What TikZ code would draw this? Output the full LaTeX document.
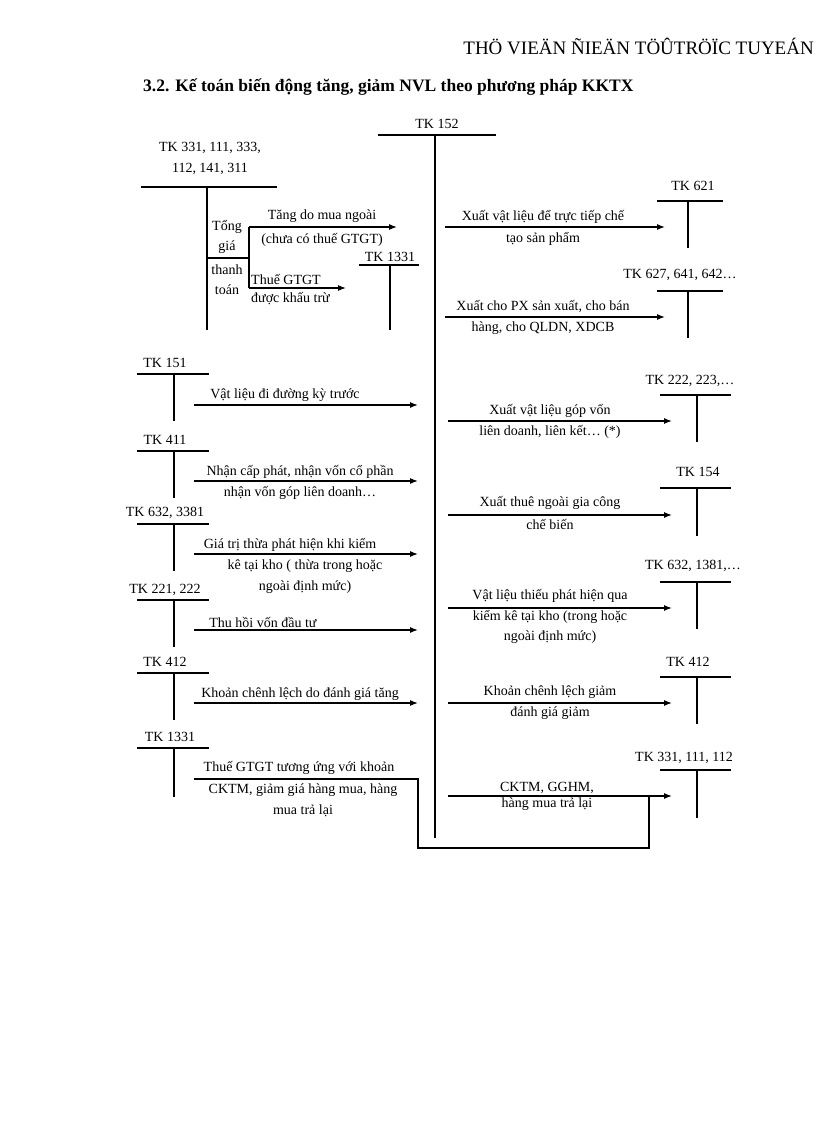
\documentclass[tikz,border=0pt]{standalone}
\usepackage{fontspec}
\setmainfont{Liberation Serif}
\usetikzlibrary{arrows.meta}
\begin{document}
\begin{tikzpicture}[x=1pt,y=-1pt,
  t/.style={inner sep=0pt,font=\fontsize{14}{16}\selectfont,align=center},
  ln/.style={line width=1.2pt},
  ar/.style={line width=1.2pt,-{Latex[length=8pt,width=6pt]}}]
\useasboundingbox (0,0) rectangle (816,1123);
\node[inner sep=0pt,anchor=east,font=\fontsize{19}{21}\selectfont] (hdr) at (814,46) {THÖ VIEÄN ÑIEÄN TÖÛTRÖÏC TUYEÁN};
\node[inner sep=0pt,anchor=west,font=\bfseries\fontsize{17.5}{20}\selectfont] (ttl) at (143,87) {3.2. Kế toán biến động tăng, giảm NVL theo phương pháp KKTX};
% TK 152
\node[t] (k152) at (437,124) {TK 152};
\draw[ln] (378,135) -- (496,135); \draw[ln] (435,135) -- (435,838);
% left top
\node[t] (k331) at (210,158) {TK 331, 111, 333,\\[5pt]112, 141, 311};
\draw[ln] (141,187) -- (277,187); \draw[ln] (207,187) -- (207,330);
\draw[ln] (207,258) -- (249,258); \draw[ln] (249,227) -- (249,288);
\node[t] (tg) at (227,237) {Tổng\\[4pt]giá};
\node[t] (tt) at (227,280) {thanh\\[4pt]toán};
\draw[ar] (249,227) -- (397,227);
\node[t] (a1) at (322,216) {Tăng do mua ngoài};
\node[t] (a1b) at (322,240) {(chưa có thuế GTGT)};
\draw[ar] (249,288) -- (346,288);
\node[t,anchor=west] (a2) at (251,279) {Thuế GTGT};
\node[t,anchor=west] (a2b) at (251,299) {được khấu trừ};
\node[t] (k1331a) at (390,257) {TK 1331};
\draw[ln] (359,265) -- (419,265); \draw[ln] (390,265) -- (390,330);
% right
\node[t] (r1) at (693,186) {TK 621};
\draw[ln] (657,201) -- (723,201); \draw[ln] (688,201) -- (688,248);
\draw[ar] (445,227) -- (665,227);
\node[t] (r1a) at (543,217) {Xuất vật liệu để trực tiếp chế};
\node[t] (r1b) at (543,239) {tạo sản phẩm};
\node[t] (r2) at (680,275) {TK 627, 641, 642…};
\draw[ln] (657,291) -- (723,291); \draw[ln] (688,291) -- (688,338);
\draw[ar] (445,317) -- (665,317);
\node[t] (r2a) at (543,307) {Xuất cho PX sản xuất, cho bán};
\node[t] (r2b) at (543,328) {hàng, cho QLDN, XDCB};
% left rows
\foreach \lbl/\ty/\by/\ey/\ay [count=\i] in {TK 151/363/374/421/405, TK 411/440/451/498/481, {TK 632, 3381}/513/524/571/554, {TK 221, 222}/590/600/647/630, TK 412/662/673/720/703}{
  \node[t] (L\i) at (165,\ty) {\lbl};
  \draw[ln] (137,\by) -- (209,\by); \draw[ln] (174,\by) -- (174,\ey);
  \draw[ar] (194,\ay) -- (418,\ay);
}
\node[t] (l1) at (285,395) {Vật liệu đi đường kỳ trước};
\node[t] (l2) at (300,472) {Nhận cấp phát, nhận vốn cổ phần};
\node[t] (l2b) at (300,493) {nhận vốn góp liên doanh…};
\node[t] (l3) at (290,545) {Giá trị thừa phát hiện khi kiểm};
\node[t] (l3b) at (305,566) {kê tại kho ( thừa trong hoặc};
\node[t] (l3c) at (305,587) {ngoài định mức)};
\node[t] (l4) at (263,622) {Thu hồi vốn đầu tư};
\node[t] (l5) at (300,694) {Khoản chênh lệch do đánh giá tăng};
% right rows
\foreach \lbl/\tx/\ty/\by/\ey/\ay [count=\i] in {{TK 222, 223,…}/690/381/395/442/421, TK 154/698/472/488/536/515, {TK 632, 1381,…}/693/566/582/629/608, TK 412/688/662/677/724/703, {TK 331, 111, 112}/684/758/770/818/796}{
  \node[t] (R\i) at (\tx,\ty) {\lbl};
  \draw[ln] (660,\by) -- (731,\by); \draw[ln] (697,\by) -- (697,\ey);
  \draw[ar] (448,\ay) -- (672,\ay);
}
\node[t] (s1) at (550,411) {Xuất vật liệu góp vốn};
\node[t] (s1b) at (550,432) {liên doanh, liên kết… (*)};
\node[t] (s2) at (550,503) {Xuất thuê ngoài gia công};
\node[t] (s2b) at (550,524) {chế biến};
\node[t] (s3) at (550,596) {Vật liệu thiếu phát hiện qua};
\node[t] (s3b) at (550,617) {kiểm kê tại kho (trong hoặc};
\node[t] (s3c) at (550,637) {ngoài định mức)};
\node[t] (s4) at (550,692) {Khoản chênh lệch giảm};
\node[t] (s4b) at (550,713) {đánh giá giảm};
\node[t] (s5) at (547,788) {CKTM, GGHM,};
\node[t] (s5b) at (547,804) {hàng mua trả lại};
% TK 1331 left
\node[t] (L6) at (170,737) {TK 1331};
\draw[ln] (137,748) -- (209,748); \draw[ln] (174,748) -- (174,797);
\node[t] (l6) at (299,768) {Thuế GTGT tương ứng với khoản};
\node[t] (l6b) at (303,790) {CKTM, giảm giá hàng mua, hàng};
\node[t] (l6c) at (303,811) {mua trả lại};
\coordinate (p1) at (194,779); \coordinate (p2) at (649,796);
\draw[ln] (p1) -- (418,779) -- (418,848) -- (649,848) -- (p2);
\end{tikzpicture}
\end{document}
